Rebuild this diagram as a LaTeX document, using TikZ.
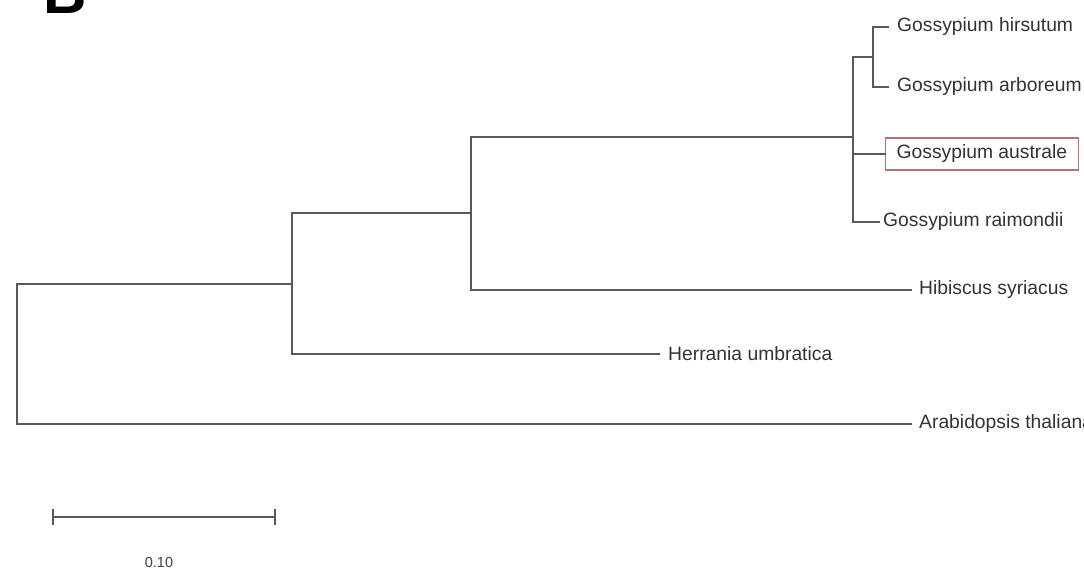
\documentclass[tikz,border=0pt]{standalone}
\usepackage{fontspec}
\setmainfont{Liberation Sans}
\begin{document}
\begin{tikzpicture}[x=1pt,y=-1pt,
  branch/.style={draw=black!65,line width=2.2pt,line cap=rect},
  leaf/.style={anchor=west,inner sep=0pt,text=black!80,font=\fontsize{19.3}{22}\selectfont},
  hilite/.style={leaf,draw=red!45!black!55,line width=1.2pt,inner xsep=11pt,minimum height=32pt},
  scalebar/.style={draw=black!65,line width=2.2pt},
  scalelabel/.style={inner sep=0pt,text=black!75,font=\fontsize{14.5}{17}\selectfont},
  panel/.style={anchor=base west,inner sep=0pt,font=\fontsize{60}{60}\selectfont\bfseries}]
\useasboundingbox (0,0) rectangle (1084,574);
\clip (0,0) rectangle (1084,574);
% panel label
\node[panel] (lab) at (43,13) {B};
% tree nodes
\coordinate (n1) at (17,354);
\coordinate (n2) at (292,284);
\coordinate (n3) at (471,213);
\coordinate (n4) at (853,137);
\coordinate (n5) at (873,57);
% leaves
\node[leaf] (hir) at (897,27) {Gossypium hirsutum};
\node[leaf] (arb) at (897,87) {Gossypium arboreum};
\node[hilite] (aus) at (885,154) {Gossypium australe};
\node[leaf] (rai) at (883,222) {Gossypium raimondii};
\node[leaf] (hib) at (919,290) {Hibiscus syriacus};
\node[leaf] (her) at (668,354) {Herrania umbratica};
\node[leaf] (ara) at (919,424) {Arabidopsis thaliana};
% branches
\draw[branch] (n2) -| (n1) |- ([xshift=-8pt]ara.west);
\draw[branch] (n3) -| (n2) |- ([xshift=-9pt]her.west);
\draw[branch] (n4) -| (n3) |- ([xshift=-8pt]hib.west);
\draw[branch] (n5) -| (n4) |- ([xshift=-4pt]rai.west);
\draw[branch] (n4 |- aus.west) -- (aus.west);
\draw[branch] ([xshift=-9pt]hir.west) -| (n5) |- ([xshift=-9pt]arb.west);
% scale bar
\coordinate (s1) at (53,517);
\coordinate (s2) at (275,517);
\draw[scalebar] (s1) -- (s2);
\draw[scalebar] ([yshift=-8pt]s1) -- ([yshift=8pt]s1);
\draw[scalebar] ([yshift=-8pt]s2) -- ([yshift=8pt]s2);
\node[scalelabel] (sl) at (159,562) {0.10};
\end{tikzpicture}
\end{document}
